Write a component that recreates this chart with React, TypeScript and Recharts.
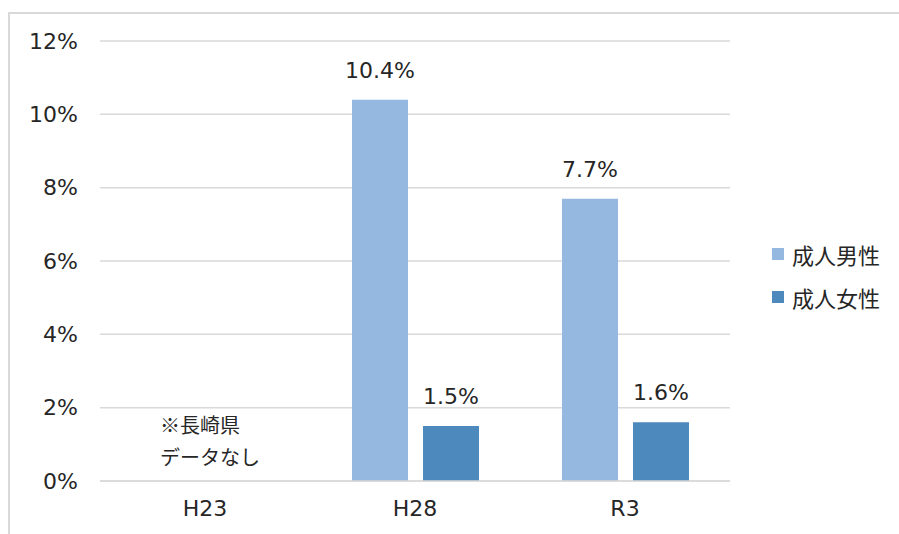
import React from "react";
import {
  BarChart,
  Bar,
  XAxis,
  YAxis,
  CartesianGrid,
  LabelList,
  Legend,
  ReferenceLine,
} from "recharts";

// Survey years on the category axis
const years = ["H23", "H28", "R3"];
// Share of adult men / women (%) per survey year; H23 has no prefecture data
const adultMen: (number | null)[] = [null, 10.4, 7.7];
const adultWomen: (number | null)[] = [null, 1.5, 1.6];
// Value axis ticks (%)
const yTicks = [0, 2, 4, 6, 8, 10, 12];
// Series names shown in the legend
const seriesNames = ["成人男性", "成人女性"];

const MEN_COLOR = "#95B8E0";
const WOMEN_COLOR = "#4E89BD";
const GRID_COLOR = "#D9D9D9";
const TEXT_COLOR = "#262626";
const LATIN_FONT = "'DejaVu Sans', sans-serif";
const CJK_FONT = "'Noto Sans CJK JP', sans-serif";

const data = years.map((year, i) => ({
  year,
  men: adultMen[i],
  women: adultWomen[i],
}));

const LegendContent = () => {
  const colors = [MEN_COLOR, WOMEN_COLOR];
  return (
    <div>
      {seriesNames.map((name, i) => (
        <div
          key={name}
          style={{
            display: "flex",
            alignItems: "center",
            height: 43,
          }}
        >
          <span
            style={{
              width: 12,
              height: 12,
              background: colors[i],
              display: "inline-block",
              marginRight: 8,
            }}
          />
          <span
            style={{
              fontFamily: CJK_FONT,
              fontSize: 22,
              color: TEXT_COLOR,
              lineHeight: 1,
            }}
          >
            {name}
          </span>
        </div>
      ))}
    </div>
  );
};

const NoDataNote = (props: any) => {
  const vb = props.viewBox || {};
  const x = (vb.x ?? 0) - 45;
  return (
    <g>
      <text
        x={x}
        y={424}
        dominantBaseline="central"
        fontFamily={CJK_FONT}
        fontSize={20}
        fill={TEXT_COLOR}
      >
        ※長崎県
      </text>
      <text
        x={x}
        y={456}
        dominantBaseline="central"
        fontFamily={CJK_FONT}
        fontSize={20}
        fill={TEXT_COLOR}
      >
        データなし
      </text>
    </g>
  );
};

const fmtPct = (v: any) => (v == null ? "" : `${Number(v).toFixed(1)}%`);

export default function App() {
  return (
    <div
      style={{
        position: "absolute",
        left: 0,
        top: 0,
        width: 899,
        height: 534,
        overflow: "hidden",
        background: "#ffffff",
      }}
    >
      <div
        style={{
          position: "absolute",
          left: 8,
          top: 12,
          width: 1000,
          height: 1000,
          borderLeft: `2px solid ${GRID_COLOR}`,
          borderTop: `2px solid ${GRID_COLOR}`,
          boxSizing: "border-box",
        }}
      />
      <div style={{ position: "absolute", left: 0, top: 0 }}>
        <BarChart
          width={899}
          height={534}
          data={data}
          margin={{ top: 41, right: 169, bottom: 23, left: 0 }}
          barCategoryGap="20%"
          barGap={15}
        >
          <CartesianGrid
            horizontal
            vertical={false}
            stroke={GRID_COLOR}
            strokeWidth={1.5}
          />
          <XAxis
            dataKey="year"
            height={30}
            axisLine={{ stroke: GRID_COLOR, strokeWidth: 1.5 }}
            tickLine={false}
            tickSize={0}
            tickMargin={19}
            tick={{ fontFamily: LATIN_FONT, fontSize: 22, fill: TEXT_COLOR }}
          />
          <YAxis
            width={100}
            domain={[0, 12]}
            ticks={yTicks}
            interval={0}
            axisLine={false}
            tickLine={false}
            tickSize={0}
            tickMargin={22}
            tickFormatter={(v: number) => `${v}%`}
            tick={{ fontFamily: LATIN_FONT, fontSize: 22, fill: TEXT_COLOR }}
          />
          <Legend
            layout="vertical"
            verticalAlign="middle"
            align="center"
            content={<LegendContent />}
            wrapperStyle={{ left: 772, top: 232, width: 130 }}
          />
          <ReferenceLine
            x="H23"
            stroke="none"
            ifOverflow="visible"
            label={<NoDataNote />}
          />
          <Bar
            dataKey="men"
            name={seriesNames[0]}
            fill={MEN_COLOR}
            isAnimationActive={false}
          >
            <LabelList
              dataKey="men"
              position="top"
              offset={22}
              formatter={fmtPct}
              style={{ fontFamily: LATIN_FONT, fontSize: 22, fill: TEXT_COLOR }}
            />
          </Bar>
          <Bar
            dataKey="women"
            name={seriesNames[1]}
            fill={WOMEN_COLOR}
            isAnimationActive={false}
          >
            <LabelList
              dataKey="women"
              position="top"
              offset={22}
              formatter={fmtPct}
              style={{ fontFamily: LATIN_FONT, fontSize: 22, fill: TEXT_COLOR }}
            />
          </Bar>
        </BarChart>
      </div>
    </div>
  );
}
